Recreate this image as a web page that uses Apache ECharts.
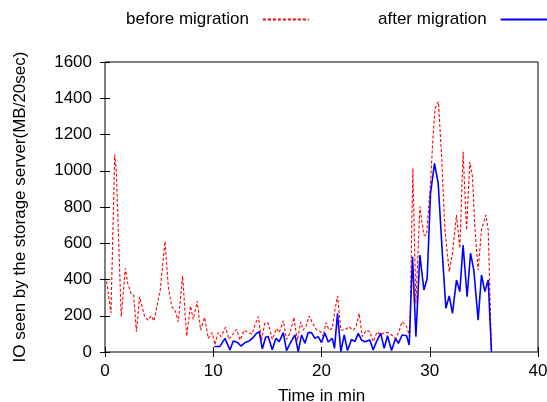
<!DOCTYPE html>
<html>
<head>
<meta charset="utf-8">
<script src="https://cdn.jsdelivr.net/npm/echarts@6/dist/echarts.min.js"></script>
<style>
  html, body { margin: 0; padding: 0; background: #fff; }
  #chart { width: 547px; height: 402px; }
</style>
</head>
<body>
<div id="chart"></div>
<script>
// Storage-server IO per 20 s sample, before and after migration
const beforeMin = [0.15, 0.55, 0.9, 1.05, 1.5, 1.88, 2.1, 2.4, 2.65, 2.9, 3.2, 3.66, 3.97, 4.27, 4.52, 5.1, 5.54,
  5.85, 6.16, 6.46, 6.77, 7.17, 7.54, 7.9, 8.15, 8.52, 8.83, 9.2, 9.54, 9.9, 10.15, 10.46, 10.71, 11.14, 11.45,
  11.76, 12.16, 12.47, 12.87, 13.24, 13.6, 13.85, 14.16, 14.47, 14.77, 15.08, 15.45, 15.85, 16.1, 16.47, 16.77,
  17.08, 17.45, 17.76, 18.1, 18.3, 18.56, 18.87, 19.18, 19.55, 19.91, 20.16, 20.4, 20.7, 20.99, 21.24, 21.48,
  21.79, 22.16, 22.53, 22.93, 23.2, 23.48, 23.76, 24.16, 24.47, 24.77, 25.14, 25.47, 25.79, 26.16, 26.47, 26.84,
  27.15, 27.45, 27.86, 28.16, 28.44, 28.72, 29.09, 29.25, 29.46, 29.7, 30.07, 30.32, 30.5, 30.8, 31.1, 31.4,
  31.8, 32.1, 32.47, 32.78, 33.08, 33.4, 33.7, 33.95, 34.16, 34.47, 34.78, 35.18, 35.4, 35.7];
const beforeIO = [390, 215, 1090, 990, 195, 462, 380, 324, 315, 112, 305, 195, 176, 200, 171, 340, 610,
  360, 250, 232, 167, 420, 88, 254, 180, 281, 121, 191, 75, 107, 40, 107, 85, 136, 70,
  94, 125, 66, 121, 107, 99, 149, 195, 66, 162, 158, 70, 130, 107, 173, 70,
  103, 191, 63, 167, 121, 140, 199, 158, 121, 112, 85, 162, 121, 130, 232, 309,
  121, 121, 140, 121, 140, 213, 85, 121, 112, 57, 112, 94, 107, 107, 94, 75,
  112, 167, 140, 85, 1013, 268, 802, 728, 645, 645, 931, 1207, 1345, 1381, 1078, 673,
  443, 545, 756, 572, 1105, 673, 1050, 967, 691, 452, 673, 756, 673, 0];

const afterMin = [10.1, 10.6, 11.08, 11.54, 11.85, 12.25, 12.56, 12.93, 13.33, 13.7, 14.0, 14.25, 14.53, 14.84,
  15.08, 15.45, 15.79, 16.1, 16.47, 16.77, 17.14, 17.54, 17.85, 18.16, 18.47, 18.77, 19.08, 19.39, 19.7, 20.0,
  20.31, 20.62, 20.99, 21.2, 21.48, 21.79, 22.1, 22.4, 22.78, 23.08, 23.4, 23.7, 24.0, 24.47, 24.77, 25.08,
  25.47, 25.79, 26.1, 26.47, 26.84, 27.1, 27.45, 27.86, 28.1, 28.41, 28.72, 29.09, 29.46, 29.76, 30.07, 30.44,
  30.78, 31.18, 31.49, 31.8, 32.1, 32.47, 32.78, 33.08, 33.45, 33.77, 34.07, 34.47, 34.78, 35.09, 35.4, 35.7];
const afterIO = [30, 30, 75, 11, 61, 52, 33, 52, 61, 81, 103, 112, 17, 81,
  85, 13, 75, 57, 107, 8, 52, 94, 2, 94, 48, 107, 107, 75, 85, 52,
  105, 55, 75, 20, 213, 2, 94, 8, 70, 57, 103, 66, 57, 66, 11, 57,
  103, 20, 90, 8, 75, 48, 94, 90, 39, 526, 85, 535, 342, 406, 875, 1041,
  931, 526, 241, 309, 213, 397, 333, 590, 305, 545, 452, 176, 425, 333, 397, 0];

const xTicks = { min: 0, max: 40, step: 10 };
const yTicks = { min: 0, max: 1600, step: 200 };
const seriesNames = ['before migration', 'after migration'];

const FONT = 'Liberation Sans, Arial, Helvetica, sans-serif';
const TEXT_SIZE = 17;
const pair = (xs, ys) => xs.map((x, i) => [x, ys[i]]);

const chart = echarts.init(document.getElementById('chart'), null, { renderer: 'canvas' });

const tickStyle = { show: true, inside: true, length: 5, lineStyle: { color: '#000', width: 1 } };
const baseX = {
  type: 'value', min: xTicks.min, max: xTicks.max, interval: xTicks.step,
  splitLine: { show: false }, axisLine: { show: false }, axisTick: tickStyle
};
const baseY = {
  type: 'value', min: yTicks.min, max: yTicks.max, interval: yTicks.step,
  splitLine: { show: false }, axisLine: { show: false }, axisTick: tickStyle
};

const legendBase = {
  top: 11, padding: 0, align: 'right', itemHeight: 10,
  itemStyle: { opacity: 0 },
  textStyle: { fontFamily: FONT, fontSize: TEXT_SIZE, color: '#000', padding: [0, 9, 0, 0] }
};

chart.setOption({
  animation: false,
  backgroundColor: '#fff',
  textStyle: { fontFamily: FONT },
  grid: {
    left: 105, right: 9, top: 62, bottom: 50,
    outerBoundsMode: 'none',
    show: true, borderColor: '#000', borderWidth: 1, backgroundColor: 'transparent'
  },
  legend: [
    Object.assign({}, legendBase, { data: [seriesNames[0]], left: 126, itemWidth: 46 }),
    Object.assign({}, legendBase, { data: [seriesNames[1]], left: 378, itemWidth: 50 })
  ],
  xAxis: [
    Object.assign({}, baseX, {
      position: 'bottom',
      name: 'Time in min', nameLocation: 'middle', nameGap: 36,
      nameTextStyle: { fontFamily: FONT, fontSize: TEXT_SIZE, color: '#000' },
      axisLabel: { margin: 11, fontFamily: FONT, fontSize: TEXT_SIZE, color: '#000' }
    }),
    Object.assign({}, baseX, { position: 'top', axisLabel: { show: false } })
  ],
  yAxis: [
    Object.assign({}, baseY, {
      position: 'left',
      name: 'IO seen by the storage server(MB/20sec)', nameLocation: 'middle', nameGap: 76,
      nameTextStyle: { fontFamily: FONT, fontSize: TEXT_SIZE, color: '#000' },
      axisLabel: {
        margin: 13, fontFamily: FONT, fontSize: TEXT_SIZE, color: '#000',
        formatter: (v) => String(v)
      }
    }),
    Object.assign({}, baseY, { position: 'right', axisLabel: { show: false } })
  ],
  series: [
    {
      name: seriesNames[0], type: 'line', symbol: 'none', showSymbol: false,
      data: pair(beforeMin, beforeIO),
      lineStyle: { color: '#ff0000', width: 1.1, type: [3, 2] },
      itemStyle: { color: '#ff0000' },
      z: 2
    },
    {
      name: seriesNames[1], type: 'line', symbol: 'none', showSymbol: false,
      data: pair(afterMin, afterIO),
      lineStyle: { color: '#0000ff', width: 1.6 },
      itemStyle: { color: '#0000ff' },
      z: 3
    }
  ]
});
</script>
</body>
</html>
